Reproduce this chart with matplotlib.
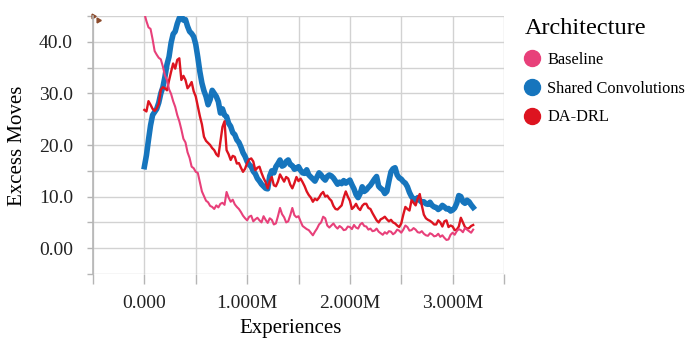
import numpy as np
import matplotlib
matplotlib.use("Agg")
import matplotlib.pyplot as plt
from matplotlib.lines import Line2D
from matplotlib.ticker import MultipleLocator, FuncFormatter

# Logged every 20k experiences
log_every = 20_000

baseline = [
    45.5, 44.0, 42.8, 42.5, 40.5, 38.2, 37.5, 36.9, 36.6, 35.2,
    33.5, 32.6, 30.8, 29.9, 28.5, 27.4, 25.8, 24.6, 23.0, 21.2,
    20.5, 18.6, 17.5, 15.8, 15.5, 14.8, 14.6, 12.8, 11.0, 10.1,
    9.2, 8.9, 8.2, 8.0, 7.6, 8.3, 7.9, 8.6, 8.8, 8.4,
    10.9, 9.8, 9.0, 9.4, 8.5, 8.0, 7.6, 7.0, 6.3, 5.8,
    5.4, 6.1, 6.3, 5.2, 5.6, 5.9, 5.4, 5.0, 6.2, 5.5,
    4.9, 5.8, 5.5, 4.6, 4.8, 6.2, 7.8, 6.6, 6.0, 5.0,
    5.2, 6.4, 7.8, 6.4, 6.0, 6.2, 5.2, 4.3, 4.0, 3.7,
    3.5, 3.0, 2.5, 3.2, 3.8, 4.6, 5.0, 6.1, 5.8, 4.4,
    4.0, 4.4, 4.8, 4.2, 3.8, 4.3, 4.0, 3.5, 3.6, 4.2,
    4.1, 3.7, 4.5, 4.0, 3.8, 4.6, 4.9, 4.3, 4.2, 3.6,
    3.8, 3.3, 3.4, 3.8, 3.2, 2.9, 2.6, 3.1, 2.8, 3.3,
    3.2, 2.7, 3.0, 3.6, 3.4, 3.0, 3.6, 4.4, 4.1, 3.4,
    3.5, 3.9, 3.6, 3.1, 3.0, 3.3, 2.8, 2.5, 2.4, 2.9,
    2.7, 2.3, 2.4, 2.8, 2.2, 2.5, 2.0, 1.6, 1.7, 2.6,
    3.0, 2.6, 3.3, 3.7, 3.5, 3.1, 3.9, 3.6, 3.3, 3.0,
    3.6,
]

shared_conv = [
    15.8, 18.0, 21.0, 23.8, 25.8, 26.4, 27.0, 28.2, 30.0, 31.2,
    33.2, 35.6, 37.1, 39.8, 41.5, 42.0, 43.5, 44.6, 45.0, 44.2,
    44.3, 43.0, 42.0, 41.6, 41.0, 39.5, 37.0, 34.2, 32.0, 30.5,
    29.4, 27.8, 28.8, 30.6, 30.0, 29.4, 28.4, 26.2, 27.0, 25.8,
    25.5, 24.2, 23.6, 22.4, 22.0, 21.0, 20.5, 19.6, 18.5, 17.8,
    16.8, 16.2, 15.8, 14.9, 14.4, 13.5, 13.0, 12.4, 12.0, 11.6,
    11.5, 14.0, 15.0, 14.6, 15.8, 16.4, 17.1, 15.9, 16.1, 16.8,
    17.1, 16.2, 16.0, 15.3, 15.5, 15.8, 15.1, 14.6, 14.5, 15.2,
    14.2, 13.8, 13.4, 13.0, 13.8, 14.6, 14.2, 13.6, 13.2, 13.9,
    14.2, 14.0, 13.6, 13.0, 12.4, 12.8, 12.5, 13.1, 12.6, 12.9,
    13.2, 12.3, 11.5, 10.4, 9.8, 10.6, 11.9, 11.0, 11.3, 11.8,
    12.2, 12.8, 13.4, 13.9, 12.0, 11.6, 11.3, 10.6, 11.0, 13.0,
    14.8, 15.4, 15.6, 14.2, 13.6, 13.4, 12.9, 12.6, 11.9, 10.8,
    10.0, 9.5, 9.3, 9.8, 9.3, 8.9, 9.0, 8.6, 8.5, 8.9,
    8.3, 8.0, 7.9, 7.5, 7.8, 8.3, 8.0, 7.6, 7.7, 7.2,
    7.4, 7.8, 8.7, 10.2, 10.0, 9.0, 8.7, 9.3, 9.0, 8.4,
    7.9,
]

da_drl = [
    26.8, 26.5, 28.5, 27.8, 27.0, 26.6, 27.1, 28.0, 30.7, 31.2,
    31.0, 30.6, 32.5, 34.2, 35.8, 34.8, 36.5, 36.8, 32.6, 33.4,
    32.6, 31.0, 31.5, 32.2, 30.4, 29.4, 27.5, 25.6, 24.0, 21.6,
    20.8, 20.4, 20.0, 19.4, 19.0, 18.2, 17.8, 20.6, 23.5, 24.6,
    19.0, 18.2, 17.1, 17.9, 17.7, 16.4, 16.5, 15.6, 14.8, 15.4,
    16.5, 17.2, 17.4, 16.8, 15.1, 15.6, 15.8, 14.6, 13.6, 12.8,
    11.6, 13.0, 13.8, 12.2, 12.0, 12.9, 14.3, 13.6, 12.9, 13.8,
    13.5, 12.3, 11.6, 12.6, 13.8, 13.0, 13.5, 12.8, 12.0, 11.0,
    10.3, 9.8, 9.0, 9.6, 9.3, 9.8, 10.5, 10.9, 10.0, 10.2,
    9.6, 9.2, 8.2, 7.6, 7.5, 7.9, 8.3, 9.8, 11.0, 10.0,
    9.2, 7.6, 8.0, 8.6, 7.8, 7.4, 8.2, 8.6, 8.6, 7.8,
    7.6, 6.8, 6.1, 5.4, 5.0, 5.6, 5.8, 6.1, 5.6, 5.2,
    5.5, 5.0, 4.8, 4.4, 4.1, 4.8, 6.5, 8.0, 7.6, 7.3,
    9.3, 8.8, 8.3, 9.6, 10.5, 8.3, 6.5, 5.8, 5.5, 5.3,
    5.0, 4.6, 4.6, 5.4, 5.0, 4.2, 5.2, 5.4, 4.1, 4.4,
    4.2, 3.5, 3.6, 4.2, 5.9, 5.0, 4.1, 3.8, 3.9, 4.3,
    4.5,
]

series_names = ["Baseline", "Shared Convolutions", "DA-DRL"]
series_colors = ["#e8407a", "#1675bd", "#dd1420"]

plt.rcParams["font.family"] = ["Liberation Serif", "DejaVu Serif"]

fig = plt.figure(figsize=(6.86, 3.39), dpi=100)
ax = fig.add_axes([93 / 686, 1 - 274 / 339, (504 - 93) / 686, (274 - 16) / 339])

experiences = np.arange(len(baseline)) * log_every

ax.plot(experiences, shared_conv, color=series_colors[1], linewidth=4.0, zorder=2)
ax.plot(experiences, da_drl, color=series_colors[2], linewidth=1.7, zorder=3)
ax.plot(experiences, baseline, color=series_colors[0], linewidth=1.5, zorder=4)

ax.set_xlim(-0.5e6, 3.5e6)
ax.set_ylim(-5, 45)

ax.xaxis.set_major_locator(MultipleLocator(0.5e6))
ax.yaxis.set_major_locator(MultipleLocator(5))


def fmt_x(v, pos):
    if v < 0 or v > 3.2e6 or abs(v % 1e6) > 1:
        return ""
    if v == 0:
        return "0.000"
    return f"{v / 1e6:.3f}M"


def fmt_y(v, pos):
    if abs(v % 10) > 1e-6:
        return ""
    if v == 0:
        return "0.00"
    return f"{v:.1f}"


ax.xaxis.set_major_formatter(FuncFormatter(fmt_x))
ax.yaxis.set_major_formatter(FuncFormatter(fmt_y))

ax.grid(True, color="#d2d2d2", linewidth=1.0)
ax.set_axisbelow(True)
for side in ["top", "right", "bottom"]:
    ax.spines[side].set_visible(False)
ax.spines["left"].set_color("#b5b5b5")
ax.spines["left"].set_linewidth(1.2)

ax.tick_params(axis="x", length=7, width=1.0, color="#b5b5b5",
               labelsize=14, pad=8, labelcolor="#222222")
ax.tick_params(axis="y", length=4, width=1.0, color="#b5b5b5",
               labelsize=14, pad=10.5, labelcolor="#222222")

ax.set_xlabel("Experiences", fontsize=15)
ax.set_ylabel("Excess Moves", fontsize=15)
ax.xaxis.set_label_coords((291 - 93) / (504 - 93), -(329 - 274) / (274 - 16))
ax.yaxis.set_label_coords(-(93 - 18) / (504 - 93), (274 - 146) / (274 - 16))
ax.xaxis.label.set_va("center")
ax.yaxis.label.set_va("center")

# little reset icon at the top-left corner
ax.plot([0.0, 0.012], [1.0, 0.985], transform=ax.transAxes, linestyle="none",
        marker=(3, 0, 30), markersize=4, color="#8b4a2b", clip_on=False)

handles = [Line2D([], [], linestyle="none", marker="o", markersize=11.5,
                  color=c) for c in series_colors]
leg = fig.legend(handles, series_names, title="Architecture",
                 loc="upper left", bbox_to_anchor=(525 / 686, 1 - 18 / 339),
                 bbox_transform=fig.transFigure, frameon=False,
                 fontsize=11.8, title_fontsize=17.5, alignment="left",
                 handlelength=0.8, handletextpad=0.55, labelspacing=0.78,
                 borderpad=0, borderaxespad=0)

fig.savefig("out.png", dpi=100)
